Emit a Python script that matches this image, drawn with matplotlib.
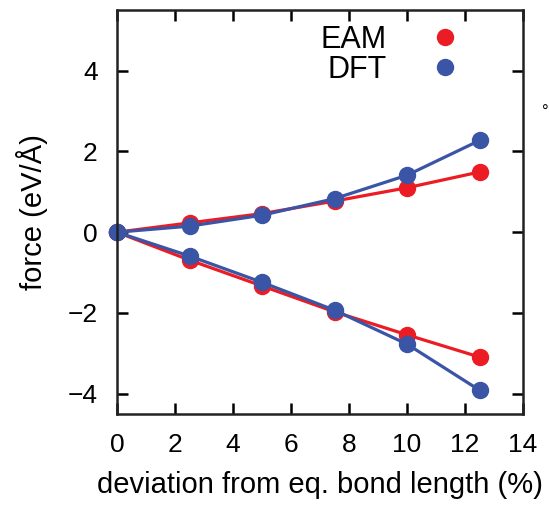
import matplotlib
matplotlib.use("Agg")
import matplotlib.pyplot as plt

plt.rcParams["font.family"] = ["Liberation Sans", "DejaVu Sans"]

# Deviation from equilibrium bond length (%)
deviation = [0, 2.5, 5, 7.5, 10, 12.5]

# Forces (eV/A) for stretched (upper) and compressed (lower) branches
eam_upper = [0, 0.23, 0.46, 0.77, 1.10, 1.49]
eam_lower = [0, -0.69, -1.33, -1.97, -2.54, -3.09]
dft_upper = [0, 0.15, 0.42, 0.83, 1.41, 2.27]
dft_lower = [0, -0.59, -1.24, -1.93, -2.77, -3.91]

x_ticks = [0, 2, 4, 6, 8, 10, 12, 14]
y_ticks = [-4, -2, 0, 2, 4]

RED  = "#ec1c24"
BLUE = "#3a54a6"

fig = plt.figure(figsize=(5.49, 5.07), dpi=100)
ax = fig.add_axes([117/549, 1 - 414/507, (523 - 117)/549, (414 - 10)/507])

style = dict(lw=2.3, marker="o", ms=11.5, clip_on=False)
ax.plot(deviation, eam_upper, color=RED, label="EAM", **style)
ax.plot(deviation, eam_lower, color=RED, **style)
ax.plot(deviation, dft_upper, color=BLUE, label="DFT", **style)
ax.plot(deviation, dft_lower, color=BLUE, **style)

ax.set_xlim(0, 14)
ax.set_ylim(-4.5, 5.5)
ax.set_xticks(x_ticks)
ax.set_yticks(y_ticks)
ax.set_yticklabels([f"{t}".replace("-", "\u2212") for t in y_ticks])
ax.tick_params(direction="in", length=8, width=1.8, labelsize=19,
               top=True, right=True)
ax.tick_params(axis="x", pad=14)
ax.tick_params(axis="y", pad=14)
for spine in ax.spines.values():
    spine.set_linewidth(1.8)
    spine.set_color("#222222")

ax.set_xlabel("deviation from eq. bond length (%)", fontsize=21, labelpad=10)
ax.set_ylabel("force (eV/\u00c5)", fontsize=21, labelpad=14)

# Legend with markers to the right of the names
handles, labels = ax.get_legend_handles_labels()
leg = ax.legend(handles, labels, loc="upper right", bbox_to_anchor=(0.875, 1.008),
                markerfirst=False, frameon=False, fontsize=22, handlelength=0.6,
                handletextpad=1.6, labelspacing=0.0, borderaxespad=0.2)
for h in leg.legend_handles:
    h.set_linestyle("none")

fig.text(545/549, 1 - 112/507, "\u00b0", fontsize=12, ha="center", va="center")

fig.savefig("out.png", dpi=100)
